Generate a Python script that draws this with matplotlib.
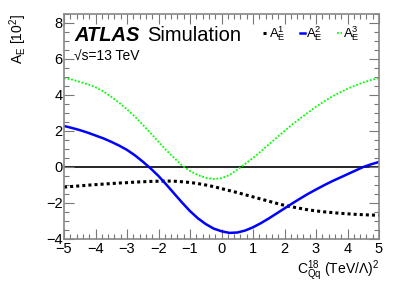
import matplotlib
matplotlib.use("Agg")
import matplotlib.pyplot as plt
from matplotlib.ticker import MultipleLocator

plt.rcParams['font.family'] = ['Liberation Sans', 'DejaVu Sans']
plt.rcParams['mathtext.fontset'] = 'custom'
plt.rcParams['mathtext.rm'] = 'Liberation Sans'
plt.rcParams['mathtext.it'] = 'Liberation Sans:italic'
plt.rcParams['mathtext.bf'] = 'Liberation Sans:bold'

x = [-5, -4.75, -4.5, -4.25, -4, -3.75, -3.5, -3.25, -3, -2.75, -2.5, -2.25, -2, -1.75, -1.5, -1.25,
     -1, -0.75, -0.5, -0.25, 0, 0.25, 0.5, 0.75, 1, 1.25, 1.5, 1.75, 2, 2.25, 2.5, 2.75, 3, 3.25,
     3.5, 3.75, 4, 4.25, 4.5, 4.75, 5]
a1 = [-1.12, -1.08, -1.05, -1.01, -0.98, -0.95, -0.92, -0.89, -0.87, -0.84, -0.82, -0.80, -0.79, -0.78,
      -0.79, -0.82, -0.86, -0.92, -1.00, -1.09, -1.20, -1.31, -1.42, -1.54, -1.66, -1.78, -1.90, -2.02,
      -2.13, -2.22, -2.30, -2.38, -2.44, -2.49, -2.53, -2.57, -2.60, -2.63, -2.65, -2.67, -2.68]
a2 = [2.28, 2.17, 2.05, 1.91, 1.75, 1.59, 1.40, 1.19, 0.95, 0.65, 0.30, -0.08, -0.50, -0.98, -1.48, -1.98,
      -2.45, -2.85, -3.17, -3.42, -3.57, -3.66, -3.64, -3.53, -3.35, -3.12, -2.86, -2.58, -2.30, -2.02,
      -1.75, -1.49, -1.25, -1.02, -0.80, -0.60, -0.40, -0.20, 0.00, 0.15, 0.28]
a3 = [4.94, 4.86, 4.73, 4.60, 4.43, 4.20, 3.90, 3.57, 3.20, 2.80, 2.35, 1.88, 1.40, 0.93, 0.50, 0.08,
      -0.22, -0.45, -0.60, -0.67, -0.62, -0.45, -0.15, 0.17, 0.50, 0.87, 1.25, 1.63, 2.00, 2.37, 2.70,
      3.03, 3.35, 3.63, 3.90, 4.13, 4.35, 4.53, 4.70, 4.83, 4.95]
labels = [r'$\mathregular{A_E^1}$', r'$\mathregular{A_E^2}$', r'$\mathregular{A_E^3}$']

fig = plt.figure(figsize=(3.99, 2.86), dpi=100)
ax = fig.add_axes([64/399, 1-239/286, (379-64)/399, (239-14)/286])

ax.axhline(0, color='black', lw=1.2, zorder=1)
l1, = ax.plot(x, a1, color='black', lw=2.2, linestyle=(0, (1, 1)), label=labels[0])
l2, = ax.plot(x, a2, color='#0000ff', lw=1.8, label=labels[1])
l3, = ax.plot(x, a3, color='#00ff00', lw=1.3, linestyle=(0, (1, 1)), label=labels[2])

ax.set_xlim(-5, 5)
ax.set_ylim(-4, 8.5)
ax.xaxis.set_major_locator(MultipleLocator(1))
ax.xaxis.set_minor_locator(MultipleLocator(0.2))
ax.yaxis.set_major_locator(MultipleLocator(2))
ax.yaxis.set_minor_locator(MultipleLocator(0.5))
ax.tick_params(which='both', direction='in', top=True, right=True, labelsize=10.5, colors='#777777', labelcolor='black')
ax.tick_params(which='major', length=7, width=0.8)
ax.tick_params(which='minor', length=3.5, width=0.8)
ax.tick_params(axis='x', pad=2)
ax.tick_params(axis='y', pad=1)
for s in ax.spines.values():
    s.set_color('#888888')
    s.set_linewidth(1.2)

ax.set_xlabel(r'$\mathregular{C_{Qq}^{18}}$ (TeV/$\mathregular{\Lambda}$)$\mathregular{^2}$', fontsize=10, loc='right', labelpad=2)
ax.set_ylabel(r'$\mathregular{A_E}$ [10$\mathregular{^2}$]', fontsize=10, loc='top', labelpad=12)

ax.text(0.033, 0.905, 'ATLAS', transform=ax.transAxes, fontsize=14.5, fontweight='bold', fontstyle='italic', va='center')
ax.text(0.264, 0.905, 'Simulation', transform=ax.transAxes, fontsize=14.5, va='center')
ax.text(0.033, 0.81, '\u221as=13 TeV', transform=ax.transAxes, fontsize=10, va='center')

leg = ax.legend(handles=[l1, l2, l3], loc='upper right', ncol=3, frameon=False, fontsize=9.5,
                bbox_to_anchor=(0.94, 0.955), borderaxespad=0, borderpad=0,
                handlelength=0.35, handletextpad=0.1, columnspacing=1.1)

fig.savefig('out.png', dpi=100)
